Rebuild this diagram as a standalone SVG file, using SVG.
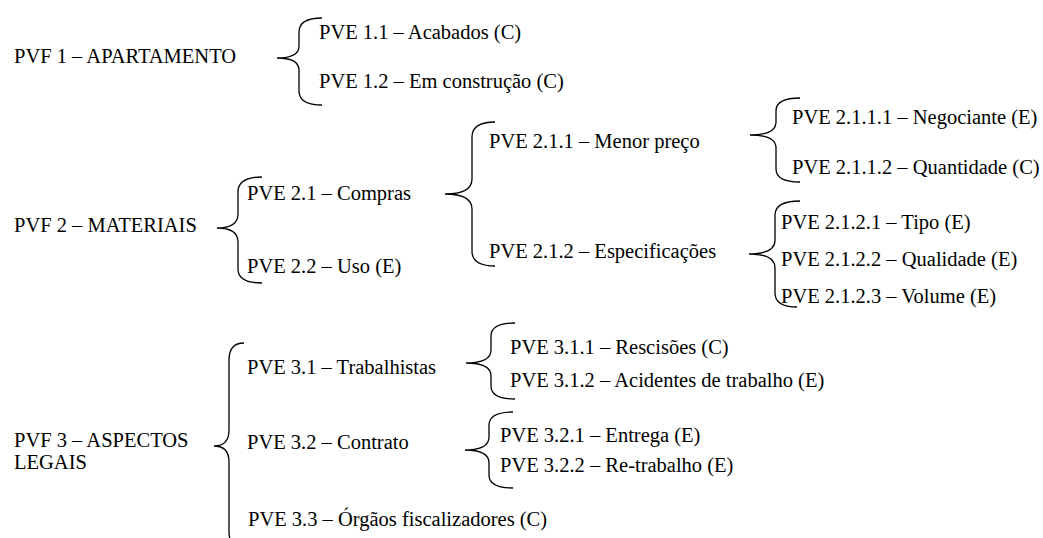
<svg xmlns="http://www.w3.org/2000/svg" width="1043" height="538" viewBox="0 0 1043 538">
  <style>
    .brace { fill: none; stroke: #000; stroke-width: 1.3; }
  </style>
  <rect width="1043" height="538" fill="#fff"/>

  <!-- curly braces linking each item to its sub-items -->
  <g id="connectors">
    <path class="brace" d="M322,18 Q299,18 299,32 L299,46 Q299,58 277,58 Q299,58 299,70 L299,91 Q299,105 322,105"/>
    <path class="brace" d="M262,177 Q238,177 238,192 L238,214 Q238,228 217,228 Q238,228 238,242 L238,269 Q238,283 262,283"/>
    <path class="brace" d="M495,122 Q472,122 472,137 L472,179 Q472,194 445,194 Q472,194 472,209 L472,251 Q472,266 495,266"/>
    <path class="brace" d="M800,98 Q776,98 776,111 L776,122 Q776,135 750,135 Q776,135 776,148 L776,169 Q776,182 800,182"/>
    <path class="brace" d="M800,201 Q775,201 775,215 L775,240 Q775,254 749,254 Q775,254 775,268 L775,293 Q775,307 797,307"/>
    <path class="brace" d="M244,343 Q229,343 229,360 L229,430 Q229,446 214,446 Q229,446 229,462 L229,532 Q229,548 244,548"/>
    <path class="brace" d="M515,323 Q491,323 491,336 L491,350 Q491,363 466,363 Q491,363 491,376 L491,386 Q491,399 515,399"/>
    <path class="brace" d="M513,412 Q489,412 489,425 L489,437 Q489,450 465,450 Q489,450 489,463 L489,475 Q489,488 513,488"/>
  </g>

  <g font-family="'Liberation Serif', 'Times New Roman', Times, serif" font-size="20.5" fill="#000">
  <g id="pvf1"><text x="14" y="63">PVF 1 – APARTAMENTO</text></g>
  <g id="pve11"><text x="319" y="39">PVE 1.1 – Acabados (C)</text></g>
  <g id="pve12"><text x="319" y="88">PVE 1.2 – Em construção (C)</text></g>

  <g id="pvf2"><text x="14" y="232">PVF 2 – MATERIAIS</text></g>
  <g id="pve21"><text x="247" y="200">PVE 2.1 – Compras</text></g>
  <g id="pve22"><text x="247" y="273">PVE 2.2 – Uso (E)</text></g>
  <g id="pve211"><text x="489" y="148">PVE 2.1.1 – Menor preço</text></g>
  <g id="pve212"><text x="489" y="258">PVE 2.1.2 – Especificações</text></g>
  <g id="pve2111"><text x="792" y="124">PVE 2.1.1.1 – Negociante (E)</text></g>
  <g id="pve2112"><text x="792" y="174">PVE 2.1.1.2 – Quantidade (C)</text></g>
  <g id="pve2121"><text x="781" y="229">PVE 2.1.2.1 – Tipo (E)</text></g>
  <g id="pve2122"><text x="781" y="266">PVE 2.1.2.2 – Qualidade (E)</text></g>
  <g id="pve2123"><text x="781" y="303">PVE 2.1.2.3 – Volume (E)</text></g>

  <g id="pvf3"><text x="14" y="447">PVF 3 – ASPECTOS</text><text x="14" y="469">LEGAIS</text></g>
  <g id="pve31"><text x="247" y="374">PVE 3.1 – Trabalhistas</text></g>
  <g id="pve32"><text x="247" y="449">PVE 3.2 – Contrato</text></g>
  <g id="pve33"><text x="248" y="526">PVE 3.3 – Órgãos fiscalizadores (C)</text></g>
  <g id="pve311"><text x="510" y="354">PVE 3.1.1 – Rescisões (C)</text></g>
  <g id="pve312"><text x="510" y="387">PVE 3.1.2 – Acidentes de trabalho (E)</text></g>
  <g id="pve321"><text x="500" y="442">PVE 3.2.1 – Entrega (E)</text></g>
  <g id="pve322"><text x="500" y="472">PVE 3.2.2 – Re-trabalho (E)</text></g>
  </g>
</svg>
